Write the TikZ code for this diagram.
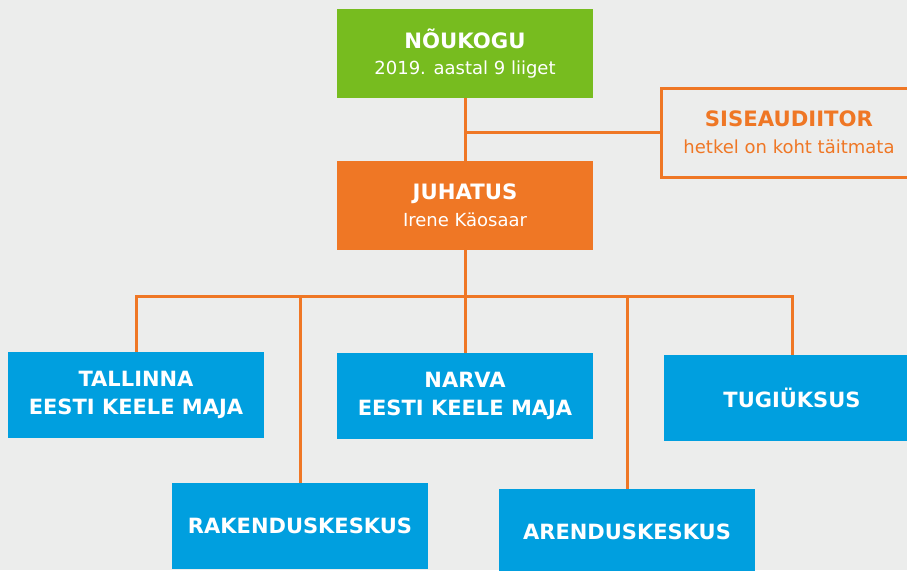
\documentclass[tikz,border=0pt]{standalone}
\usepackage{fontspec}
\newfontfamily\headfont{DejaVu Sans}
\newfontfamily\subfont{DejaVu Sans}
\definecolor{sfondo}{HTML}{ECEDEC}
\definecolor{verde}{HTML}{77BC1F}
\definecolor{arancio}{HTML}{EF7725}
\definecolor{blu}{HTML}{009FDF}
\newcommand{\sott}[1]{{\subfont\mdseries\fontsize{18}{26.5}\selectfont #1}}

\begin{document}
\begin{tikzpicture}[x=1pt, y=-1pt,
    casella/.style={rectangle, minimum width=256, minimum height=89, inner sep=0pt,
        align=center, text=white, font=\headfont\bfseries\fontsize{21.2}{26.5}\selectfont},
    unita/.style={casella, fill=blu, minimum height=86,
        font=\headfont\bfseries\fontsize{21}{28.5}\selectfont},
    collegamento/.style={draw=arancio, line width=3pt}]
    % sfondo
    \fill[sfondo] (0,0) rectangle (907,570);
    \clip (0,0) rectangle (907,570);

    % vertici
    \node[casella, fill=verde] (noukogu) at (465,53.5) {NÕUKOGU\\\sott{2019. aastal 9 liiget}};
    \node[casella, fill=arancio] (juhatus) at (465,205.5) {JUHATUS\\\sott{Irene Käosaar}};
    \node[casella, draw=arancio, line width=3pt, text=arancio] (siseaud) at (789,132.5)
        {SISEAUDIITOR\\\sott{hetkel on koht täitmata}};

    % unita
    \node[unita] (tallinna) at (136,395) {TALLINNA\\EESTI KEELE MAJA};
    \node[unita] (narva) at (465,396) {NARVA\\EESTI KEELE MAJA};
    \node[unita] (tugi) at (792,398) {TUGIÜKSUS};
    \node[unita] (rakendus) at (300,526) {RAKENDUSKESKUS};
    \node[unita] (arendus) at (627,532) {ARENDUSKESKUS};

    % collegamenti
    \coordinate (sbarra) at (0,296.5);
    \draw[collegamento] (noukogu) -- (juhatus);
    \draw[collegamento] (siseaud.west) -- (siseaud.west -| noukogu);
    \draw[collegamento] (juhatus) -- (juhatus |- sbarra);
    \draw[collegamento] (tallinna.north) |- (sbarra -| tugi) -- (tugi.north);
    \draw[collegamento] (rakendus) -- (rakendus |- sbarra);
    \draw[collegamento] (narva) -- (narva |- sbarra);
    \draw[collegamento] (arendus) -- (arendus |- sbarra);

\end{tikzpicture}
\end{document}
